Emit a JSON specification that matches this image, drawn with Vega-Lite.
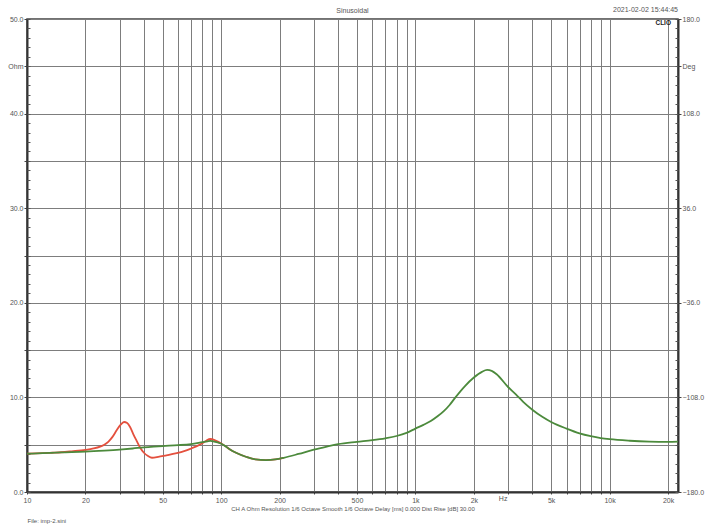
{
  "$schema": "https://vega.github.io/schema/vega-lite/v6.json",
  "width": 651,
  "height": 473,
  "autosize": "none",
  "padding": {"left": 27, "top": 19, "right": 27, "bottom": 36},
  "background": "white",
  "title": {"text": "Sinusoidal", "anchor": "middle", "frame": "group", "fontSize": 7, "fontWeight": "normal", "color": "#555", "offset": 4, "dy": 12},
  "data": {"values": [
    {"s":"red","f":10,"ohm":4.05},{"s":"red","f":12,"ohm":4.1},{"s":"red","f":13.5,"ohm":4.15},{"s":"red","f":15,"ohm":4.2},{"s":"red","f":17,"ohm":4.3},{"s":"red","f":20,"ohm":4.45},{"s":"red","f":22,"ohm":4.6},{"s":"red","f":23.8,"ohm":4.8},{"s":"red","f":25,"ohm":5.0},{"s":"red","f":26.2,"ohm":5.3},{"s":"red","f":27.5,"ohm":5.8},{"s":"red","f":29,"ohm":6.55},{"s":"red","f":30.3,"ohm":7.1},{"s":"red","f":31.6,"ohm":7.4},{"s":"red","f":32.8,"ohm":7.3},{"s":"red","f":34,"ohm":6.85},{"s":"red","f":35.3,"ohm":6.1},{"s":"red","f":36.7,"ohm":5.4},{"s":"red","f":38.2,"ohm":4.7},{"s":"red","f":40,"ohm":4.15},{"s":"red","f":42,"ohm":3.8},{"s":"red","f":44,"ohm":3.62},{"s":"red","f":48,"ohm":3.75},{"s":"red","f":53,"ohm":3.9},{"s":"red","f":59,"ohm":4.1},{"s":"red","f":65,"ohm":4.35},{"s":"red","f":70,"ohm":4.6},{"s":"red","f":75,"ohm":4.85},{"s":"red","f":80,"ohm":5.15},{"s":"red","f":84,"ohm":5.45},{"s":"red","f":88,"ohm":5.6},{"s":"red","f":92,"ohm":5.52},{"s":"red","f":98.6,"ohm":5.2},{"s":"red","f":105,"ohm":4.85},{"s":"red","f":110,"ohm":4.55},{"s":"red","f":120,"ohm":4.12},{"s":"red","f":135,"ohm":3.7},{"s":"red","f":150,"ohm":3.45},{"s":"red","f":170,"ohm":3.38},{"s":"red","f":190,"ohm":3.45},{"s":"red","f":210,"ohm":3.62},
    {"s":"green","f":10,"ohm":4.05},{"s":"green","f":12,"ohm":4.1},{"s":"green","f":15,"ohm":4.18},{"s":"green","f":20,"ohm":4.26},{"s":"green","f":25,"ohm":4.37},{"s":"green","f":30,"ohm":4.48},{"s":"green","f":35,"ohm":4.6},{"s":"green","f":40,"ohm":4.72},{"s":"green","f":45,"ohm":4.8},{"s":"green","f":50,"ohm":4.86},{"s":"green","f":60,"ohm":4.95},{"s":"green","f":70,"ohm":5.07},{"s":"green","f":80,"ohm":5.27},{"s":"green","f":85,"ohm":5.36},{"s":"green","f":88,"ohm":5.4},{"s":"green","f":92,"ohm":5.33},{"s":"green","f":98.6,"ohm":5.15},{"s":"green","f":105,"ohm":4.85},{"s":"green","f":110,"ohm":4.55},{"s":"green","f":120,"ohm":4.12},{"s":"green","f":135,"ohm":3.7},{"s":"green","f":150,"ohm":3.45},{"s":"green","f":170,"ohm":3.38},{"s":"green","f":190,"ohm":3.45},{"s":"green","f":210,"ohm":3.62},{"s":"green","f":250,"ohm":4.02},{"s":"green","f":300,"ohm":4.48},{"s":"green","f":350,"ohm":4.8},{"s":"green","f":400,"ohm":5.05},{"s":"green","f":500,"ohm":5.3},{"s":"green","f":600,"ohm":5.48},{"s":"green","f":700,"ohm":5.68},{"s":"green","f":800,"ohm":5.92},{"s":"green","f":900,"ohm":6.25},{"s":"green","f":1000,"ohm":6.7},{"s":"green","f":1100,"ohm":7.1},{"s":"green","f":1200,"ohm":7.5},{"s":"green","f":1300,"ohm":8.0},{"s":"green","f":1400,"ohm":8.55},{"s":"green","f":1500,"ohm":9.2},{"s":"green","f":1600,"ohm":9.95},{"s":"green","f":1800,"ohm":11.2},{"s":"green","f":2000,"ohm":12.1},{"s":"green","f":2200,"ohm":12.7},{"s":"green","f":2340,"ohm":12.9},{"s":"green","f":2470,"ohm":12.8},{"s":"green","f":2620,"ohm":12.45},{"s":"green","f":3000,"ohm":11.1},{"s":"green","f":3300,"ohm":10.3},{"s":"green","f":3600,"ohm":9.5},{"s":"green","f":4000,"ohm":8.7},{"s":"green","f":4500,"ohm":7.95},{"s":"green","f":5000,"ohm":7.4},{"s":"green","f":6000,"ohm":6.7},{"s":"green","f":7000,"ohm":6.2},{"s":"green","f":8000,"ohm":5.9},{"s":"green","f":9000,"ohm":5.7},{"s":"green","f":10000,"ohm":5.58},{"s":"green","f":12700,"ohm":5.42},{"s":"green","f":16000,"ohm":5.33},{"s":"green","f":20000,"ohm":5.3},{"s":"green","f":22500,"ohm":5.33}
  ]},
  "resolve": {"axis": {"x": "independent", "y": "independent"}},
  "layer": [
    {
      "transform": [{"filter": "datum.s === 'red'"}],
      "mark": {"type": "line", "color": "#e4503e", "strokeWidth": 1.8, "interpolate": "monotone"},
      "encoding": {
        "x": {"field": "f", "type": "quantitative", "scale": {"type": "log", "domain": [10, 22500], "nice": false},
          "axis": {"orient": "bottom", "values": [10,20,30,40,50,60,70,80,90,100,200,300,400,500,600,700,800,900,1000,2000,3000,4000,5000,6000,7000,8000,9000,10000,20000],
            "grid": true, "gridColor": "#7d7d7d", "gridWidth": 1, "gridOpacity": 1,
            "labelExpr": "indexof([10,20,50,100,200,500,1000,2000,5000,10000,20000], datum.value) >= 0 ? (datum.value >= 1000 ? (datum.value/1000) + 'k' : '' + datum.value) : ''",
            "labelFlush": false, "labelOverlap": false, "labelFontSize": 7, "labelColor": "#555", "labelPadding": 2,
            "ticks": true, "tickSize": 2, "tickColor": "#444",
            "domain": true, "domainColor": "#333", "domainWidth": 2,
            "title": "CH A  Ohm  Resolution 1/6 Octave  Smooth 1/6 Octave  Delay [ms] 0.000  Dist Rise [dB] 30.00",
            "titleFontSize": 6, "titleFontWeight": "normal", "titleColor": "#555", "titlePadding": 2}},
        "y": {"field": "ohm", "type": "quantitative", "scale": {"domain": [0, 50], "nice": false, "zero": false},
          "axis": {"orient": "left", "values": [0,5,10,15,20,25,30,35,40,45,50],
            "grid": true, "gridColor": "#7d7d7d", "gridWidth": 1, "gridOpacity": 1,
            "labelExpr": "datum.value == 45 ? 'Ohm' : (datum.value % 10 == 0 ? format(datum.value, '.1f') : '')",
            "labelFlush": false, "labelOverlap": false, "labelFontSize": 7, "labelColor": "#555", "labelPadding": 1,
            "ticks": true, "tickSize": 3, "tickColor": "#444",
            "domain": true, "domainColor": "#333", "domainWidth": 2, "title": null}}
      }
    },
    {
      "transform": [{"filter": "datum.s === 'green'"}],
      "mark": {"type": "line", "color": "#4c8a3c", "strokeWidth": 1.8, "interpolate": "monotone"},
      "encoding": {
        "x": {"field": "f", "type": "quantitative", "scale": {"type": "log", "domain": [10, 22500], "nice": false}, "axis": null},
        "y": {"field": "ohm", "type": "quantitative", "scale": {"domain": [0, 50], "nice": false, "zero": false}, "axis": null}
      }
    },
    {
      "data": {"values": [{}]},
      "mark": {"type": "text", "text": "2021-02-02 15:44:45", "align": "right", "baseline": "middle", "fontSize": 7, "color": "#555"},
      "encoding": {
        "x": {"datum": 22500, "type": "quantitative", "scale": {"type": "log", "domain": [10, 22500], "nice": false}, "axis": null},
        "y": {"datum": 50.95, "type": "quantitative", "scale": {"domain": [0, 50], "nice": false, "zero": false},
          "axis": {"orient": "right", "values": [0,10,20,30,40,45,50],
            "grid": false,
            "labelExpr": "datum.value == 45 ? 'Deg' : format(datum.value * 7.2 - 180, '.1f')",
            "labelFlush": false, "labelOverlap": false, "labelFontSize": 7, "labelColor": "#555", "labelPadding": 1,
            "ticks": true, "tickSize": 3, "tickColor": "#444",
            "domain": true, "domainColor": "#333", "domainWidth": 2, "title": null}}
      }
    },
    {
      "data": {"values": [{}]},
      "mark": {"type": "text", "text": "CLIO", "align": "right", "baseline": "middle", "fontSize": 6.5, "fontWeight": "bold", "color": "#222"},
      "encoding": {
        "x": {"datum": 20700, "type": "quantitative", "scale": {"type": "log", "domain": [10, 22500], "nice": false}, "axis": null},
        "y": {"datum": 49.6, "type": "quantitative", "scale": {"domain": [0, 50], "nice": false, "zero": false},
          "axis": {"orient": "left", "values": [0,1,2,3,4,5,6,7,8,9,10,11,12,13,14,15,16,17,18,19,20,21,22,23,24,25,26,27,28,29,30,31,32,33,34,35,36,37,38,39,40,41,42,43,44,45,46,47,48,49,50],
            "labels": false, "grid": false, "domain": false, "ticks": true, "tickSize": -3, "tickColor": "#555", "title": null}}
      }
    },
    {
      "data": {"values": [{}]},
      "mark": {"type": "text", "text": "Hz", "align": "center", "baseline": "middle", "fontSize": 7, "color": "#555"},
      "encoding": {
        "x": {"datum": 2830, "type": "quantitative", "scale": {"type": "log", "domain": [10, 22500], "nice": false},
          "axis": {"orient": "bottom", "labels": false, "ticks": false, "domain": false, "grid": false,
            "title": "File: imp-2.sini", "titleAnchor": "start", "titlePadding": 25, "titleFontSize": 6, "titleFontWeight": "normal", "titleColor": "#555"}},
        "y": {"datum": -0.75, "type": "quantitative", "scale": {"domain": [0, 50], "nice": false, "zero": false},
          "axis": {"orient": "right", "values": [0,1,2,3,4,5,6,7,8,9,10,11,12,13,14,15,16,17,18,19,20,21,22,23,24,25,26,27,28,29,30,31,32,33,34,35,36,37,38,39,40,41,42,43,44,45,46,47,48,49,50],
            "labels": false, "grid": false, "domain": false, "ticks": true, "tickSize": -3, "tickColor": "#555", "title": null}}
      }
    }
  ],
  "config": {
    "font": "Liberation Sans",
    "view": {"stroke": "#444", "strokeWidth": 1.5}
  }
}
